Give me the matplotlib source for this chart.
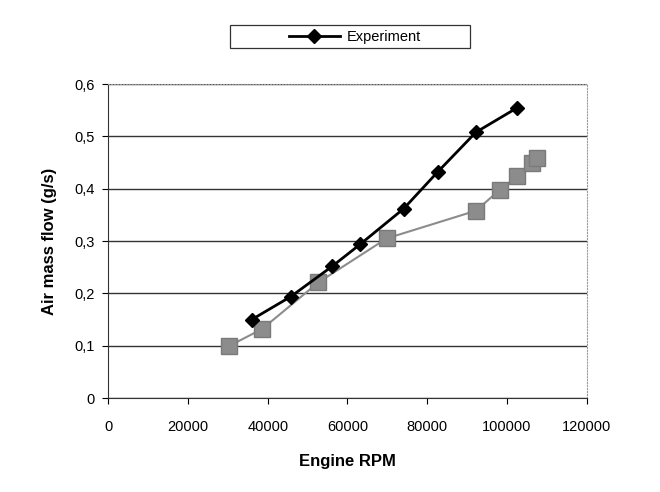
import numpy as np
import matplotlib.pyplot as plt
from matplotlib.patches import Rectangle

plt.rcParams['font.family'] = ['Liberation Sans', 'DejaVu Sans']

# Experiment (black diamonds)
exp_rpm = [36000, 45800, 56200, 63200, 74100, 82600, 92200, 102600]
exp_flow = [0.150, 0.194, 0.252, 0.294, 0.362, 0.432, 0.508, 0.555]

# Second series (grey squares)
sim_rpm = [30200, 38600, 52700, 69800, 92200, 98200, 102600, 106300, 107600]
sim_flow = [0.099, 0.132, 0.221, 0.305, 0.358, 0.398, 0.424, 0.449, 0.459]

yticks = [0, 0.1, 0.2, 0.3, 0.4, 0.5, 0.6]
ytick_labels = ['0', '0,1', '0,2', '0,3', '0,4', '0,5', '0,6']
xticks = [0, 20000, 40000, 60000, 80000, 100000, 120000]

fig = plt.figure(figsize=(6.6, 4.92), dpi=100)
ax = fig.add_axes([0.164, 0.191, 0.725, 0.638])

ax.plot(sim_rpm, sim_flow, color='#8c8c8c', lw=1.5, marker='s', ms=11,
        mfc='#8c8c8c', mec='#7a7a7a', zorder=3)
ax.plot(exp_rpm, exp_flow, color='black', lw=2, marker='D', ms=7,
        mfc='black', mec='black', zorder=4, label='Experiment')

ax.set_xlim(0, 120000)
ax.set_ylim(0, 0.6)
ax.set_xticks(xticks)
ax.set_xticklabels([str(t) for t in xticks], fontsize=10.5)
ax.set_yticks(yticks)
ax.set_yticklabels(ytick_labels, fontsize=10.5)
ax.yaxis.grid(True, color='#333333', lw=1)
ax.set_axisbelow(True)
ax.tick_params(axis='both', direction='out', length=4, width=0.8, pad=6)
ax.tick_params(axis='x', pad=12)

for s in ['top', 'right']:
    ax.spines[s].set_color('#9a9a9a')
    ax.spines[s].set_linestyle(':')
for s in ['left', 'bottom']:
    ax.spines[s].set_color('#333333')

ax.set_xlabel('Engine RPM', fontsize=12, fontweight='bold', labelpad=14)
ax.set_ylabel('Air mass flow (g/s)', fontsize=12, fontweight='bold', labelpad=12)

# legend content without frame, plus a wide box drawn around it
leg = fig.legend(loc='center', bbox_to_anchor=(0.538, 0.925), fontsize=10.5,
                 frameon=False, handlelength=3.5, handletextpad=0.5)
fig.patches.append(Rectangle((0.348, 0.902), 0.364, 0.047, transform=fig.transFigure,
                             fill=False, edgecolor='#333333', lw=0.9))

fig.savefig('out.png', dpi=100)
